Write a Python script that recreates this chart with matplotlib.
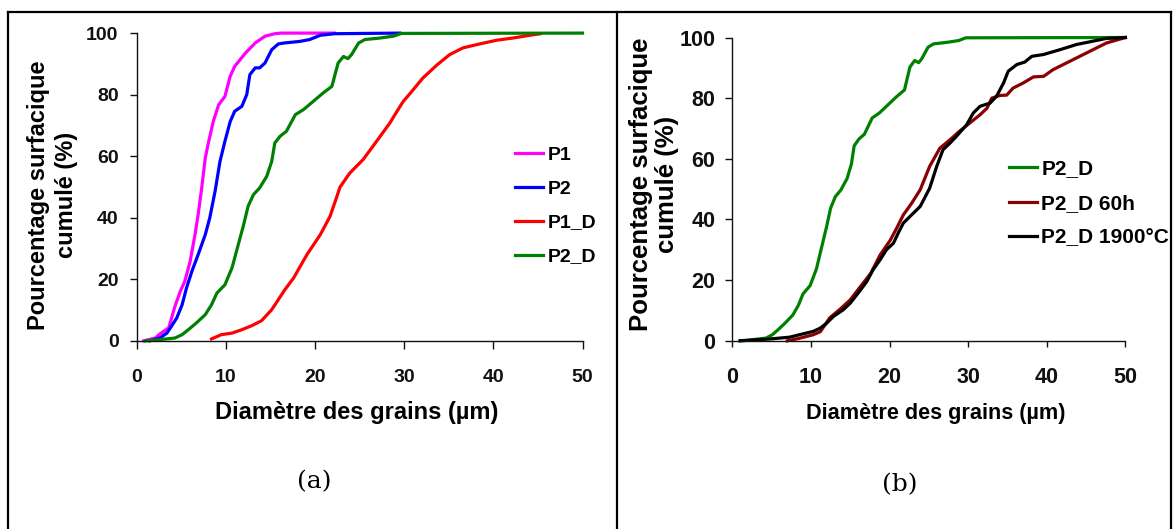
import matplotlib
matplotlib.use("Agg")
import matplotlib.pyplot as plt
from matplotlib.lines import Line2D

plt.rcParams['font.family'] = ['Liberation Sans', 'DejaVu Sans']
plt.rcParams['font.weight'] = 'bold'

# ---- cumulative surface percentage vs grain diameter (µm) ----
p1_x = [0.8, 2.1, 2.6, 3.6, 4.3, 4.9, 5.4, 6.0, 6.55, 6.9, 7.3, 7.7, 8.0, 8.6, 9.2,
        9.9, 10.5, 11.0, 12.2, 13.3, 14.4, 15.5, 16.2, 22.2]
p1_y = [0, 0.9, 2.2, 4.2, 11.2, 16.1, 19.3, 25.8, 34.5, 41, 49.7, 59.4, 63.7, 71.3, 76.7,
        79.4, 86, 89.2, 93.5, 96.8, 99, 99.8, 100, 100]

p2_x = [1.5, 2.6, 3.4, 3.9, 4.5, 5.1, 5.6, 6.2, 6.9, 7.7, 8.2, 8.8, 9.35, 9.9, 10.5,
        11.0, 11.8, 12.35, 12.7, 13.3, 13.8, 14.4, 15.15, 15.9, 16.6, 18.3, 19.4, 20.6,
        22.2, 29.5]
p2_y = [0, 0.9, 2.5, 4.7, 7.4, 11.7, 17.2, 22.6, 28, 34.5, 39.9, 48.6, 58.3, 64.8, 71.3,
        74.6, 76.2, 80, 86.5, 88.7, 88.7, 90.3, 94.6, 96.5, 96.8, 97.3, 97.9, 99.3,
        99.8, 100]

p1d_x = [8.4, 9.5, 10.7, 11.8, 12.9, 14.0, 15.15, 15.9, 16.6, 17.6, 19.1, 20.6, 21.7,
         22.4, 22.8, 23.9, 25.4, 26.9, 28.4, 29.2, 29.9, 30.7, 32.1, 33.7, 35.1, 36.6,
         38.5, 40.4, 42.2, 44.1, 45.3]
p1d_y = [0.6, 2, 2.5, 3.6, 4.9, 6.5, 10.1, 13.4, 16.5, 20.4, 28, 34.5, 40.5, 46.4, 49.9,
         54.5, 58.9, 64.8, 70.8, 74.6, 77.8, 80.5, 85.4, 89.7, 93, 95.2, 96.5, 97.7,
         98.4, 99.3, 99.8]

p2d_x = [1.0, 2.0, 4.3, 5.1, 5.8, 6.7, 7.7, 8.4, 9.0, 9.9, 10.7, 11.2, 11.6, 12.0, 12.5,
         13.1, 13.8, 14.6, 15.15, 15.5, 16.1, 16.8, 17.8, 18.7, 19.8, 20.9, 21.9, 22.2,
         22.6, 23.2, 23.7, 24.1, 24.9, 25.6, 27.3, 28.8, 29.7, 50]
p2d_y = [0, 0.2, 0.9, 2, 3.6, 5.8, 8.5, 11.7, 15.5, 18.2, 23.7, 29.1, 33.4, 37.7, 43.7,
         47.5, 49.7, 53.5, 58.3, 64.3, 66.5, 68.1, 73.5, 75.1, 77.8, 80.5, 82.7, 86,
         90.3, 92.4, 91.7, 93, 96.8, 97.9, 98.4, 99, 99.9, 100]

p2d60_x = [7.0, 8.5, 10.3, 11.2, 12.4, 13.7, 15.0, 16.3, 17.6, 18.8, 20.1, 20.9, 21.75,
           22.8, 23.9, 25.1, 26.4, 27.7, 28.9, 30.2, 31.5, 32.4, 33.0, 34.05, 34.9, 35.7,
           37.0, 38.3, 39.6, 40.8, 42.5, 44.2, 45.9, 47.6, 50]
p2d60_y = [0, 0.8, 2.0, 3.0, 7.6, 10.4, 13.5, 17.9, 22.2, 28.3, 33.2, 37.1, 41.5,
           45.3, 49.8, 57.5, 63.5, 66.3, 69.1, 71.8, 74.5, 76.7, 80, 80.9, 81, 83.3,
           85, 87, 87.2, 89.4, 91.6, 93.8, 96, 98.2, 100]

p2d1900_x = [1.0, 4.8, 7.3, 9.0, 10.3, 11.2, 12.0, 12.85, 14.1, 15.0, 16.0, 17.1, 17.9,
             18.8, 19.6, 20.5, 21.1, 21.75, 22.8, 23.9, 25.1, 26.0, 26.8, 27.7, 28.5,
             29.8, 30.65, 31.5, 32.8, 33.6, 34.5, 35.1, 36.2, 37.2, 38.1, 39.6, 41.7,
             43.8, 45.9, 47.6, 50]
p2d1900_y = [0, 0.6, 1.2, 2.3, 3.1, 4.2, 5.8, 8, 10.2, 12.4, 15.7, 19.5, 23.4,
             26.7, 30, 32.2, 35.5, 38.8, 41.5, 44.3, 50.3, 57.5, 63, 65.2, 67.4,
             71.2, 75.1, 77.3, 78.4, 80.6, 85, 88.9, 91.1, 91.9, 93.8, 94.4, 96,
             97.7, 98.8, 99.7, 100]

x_ticks = [0, 10, 20, 30, 40, 50]
y_ticks = [0, 20, 40, 60, 80, 100]
xlabel = "Diamètre des grains (µm)"
ylabel = "Pourcentage surfacique\ncumulé (%)"

W, H = 1173, 529
fig = plt.figure(figsize=(W / 100, H / 100), dpi=100)


def px_rect(x0, x1, y_top, y_bot):
    return [x0 / W, 1 - y_bot / H, (x1 - x0) / W, (y_bot - y_top) / H]


def style_axes(ax, tick_size, xpad, ypad, xlen, ylen):
    ax.set_xlim(0, 50)
    ax.set_ylim(0, 100)
    ax.set_xticks(x_ticks)
    ax.set_yticks(y_ticks)
    for s in ('top', 'right'):
        ax.spines[s].set_visible(False)
    for s in ('left', 'bottom'):
        ax.spines[s].set_linewidth(1.0)
        ax.spines[s].set_color('#111111')
    ax.tick_params(axis='x', direction='out', length=xlen, width=1.0, pad=xpad,
                   labelsize=tick_size, colors='#111111')
    ax.tick_params(axis='y', direction='out', length=ylen, width=1.0, pad=ypad,
                   labelsize=tick_size, colors='#111111')
    ax.patch.set_alpha(0)


# ---- panel (a) ----
ax1 = fig.add_axes(px_rect(136.6, 582.5, 33.1, 340.8))
lw = 2.3
ax1.plot(p1_x, p1_y, color='#FF00FF', lw=lw, label='P1', clip_on=False)
ax1.plot(p2_x, p2_y, color='#0000FF', lw=lw, label='P2', clip_on=False)
ax1.plot(p1d_x, p1d_y, color='#FF0000', lw=lw, label='P1_D', clip_on=False)
ax1.plot(p2d_x, p2d_y, color='#008000', lw=lw, label='P2_D', clip_on=False)
style_axes(ax1, 14, 14.5, 8.3, 6, 4.7)
ax1.set_xlabel(xlabel, fontsize=17, fontweight='bold')
ax1.xaxis.set_label_coords(0.494, -0.195)
ax1.set_ylabel(ylabel, fontsize=17, fontweight='bold', linespacing=1.28)
ax1.yaxis.set_label_coords(-0.132, 0.474)
ax1.legend(loc='center left', bbox_to_anchor=(514.7 / W, 1 - 205.7 / H),
           bbox_transform=fig.transFigure, frameon=False, borderpad=0,
           borderaxespad=0, handlelength=1.48, handletextpad=0.24,
           labelspacing=0.84, prop={'size': 14, 'weight': 'bold'})

# ---- panel (b) ----
ax2 = fig.add_axes(px_rect(732.3, 1125.4, 37.5, 340.8))
ax2.plot(p2d_x, p2d_y, color='#008000', lw=lw, label='P2_D', clip_on=False)
ax2.plot(p2d60_x, p2d60_y, color='#8B0000', lw=lw, label='P2_D 60h', clip_on=False)
ax2.plot(p2d1900_x, p2d1900_y, color='#000000', lw=lw, label='P2_D 1900°C',
         clip_on=False)
style_axes(ax2, 15.5, 14.5, 7.3, 4.5, 5)
ax2.set_xlabel(xlabel, fontsize=15.6, fontweight='bold')
ax2.xaxis.set_label_coords(0.518, -0.205)
ax2.set_ylabel(ylabel, fontsize=18.5, fontweight='bold', linespacing=1.12)
ax2.yaxis.set_label_coords(-0.135, 0.517)
ax2.legend(loc='center left', bbox_to_anchor=(1009.2 / W, 1 - 203.3 / H),
           bbox_transform=fig.transFigure, frameon=False, borderpad=0,
           borderaxespad=0, handlelength=1.32, handletextpad=0.23,
           labelspacing=0.74, prop={'size': 15, 'weight': 'bold'})

# ---- table frame and captions ----
frame_kw = dict(color='black', lw=1.6, transform=fig.transFigure)
for xp in (8, 617, 1170.5):
    fig.add_artist(Line2D([xp / W, xp / W], [1 - 12 / H, 0], **frame_kw))
fig.add_artist(Line2D([8 / W, 1170.5 / W], [1 - 12 / H, 1 - 12 / H], **frame_kw))

cap_kw = dict(fontsize=18, fontweight='normal', family='DejaVu Serif',
              ha='center', va='center')
fig.text(313.8 / W, 1 - 482 / H, '(a)', **cap_kw)
fig.text(900 / W, 1 - 485 / H, '(b)', **cap_kw)

fig.savefig('out.png', dpi=100)
